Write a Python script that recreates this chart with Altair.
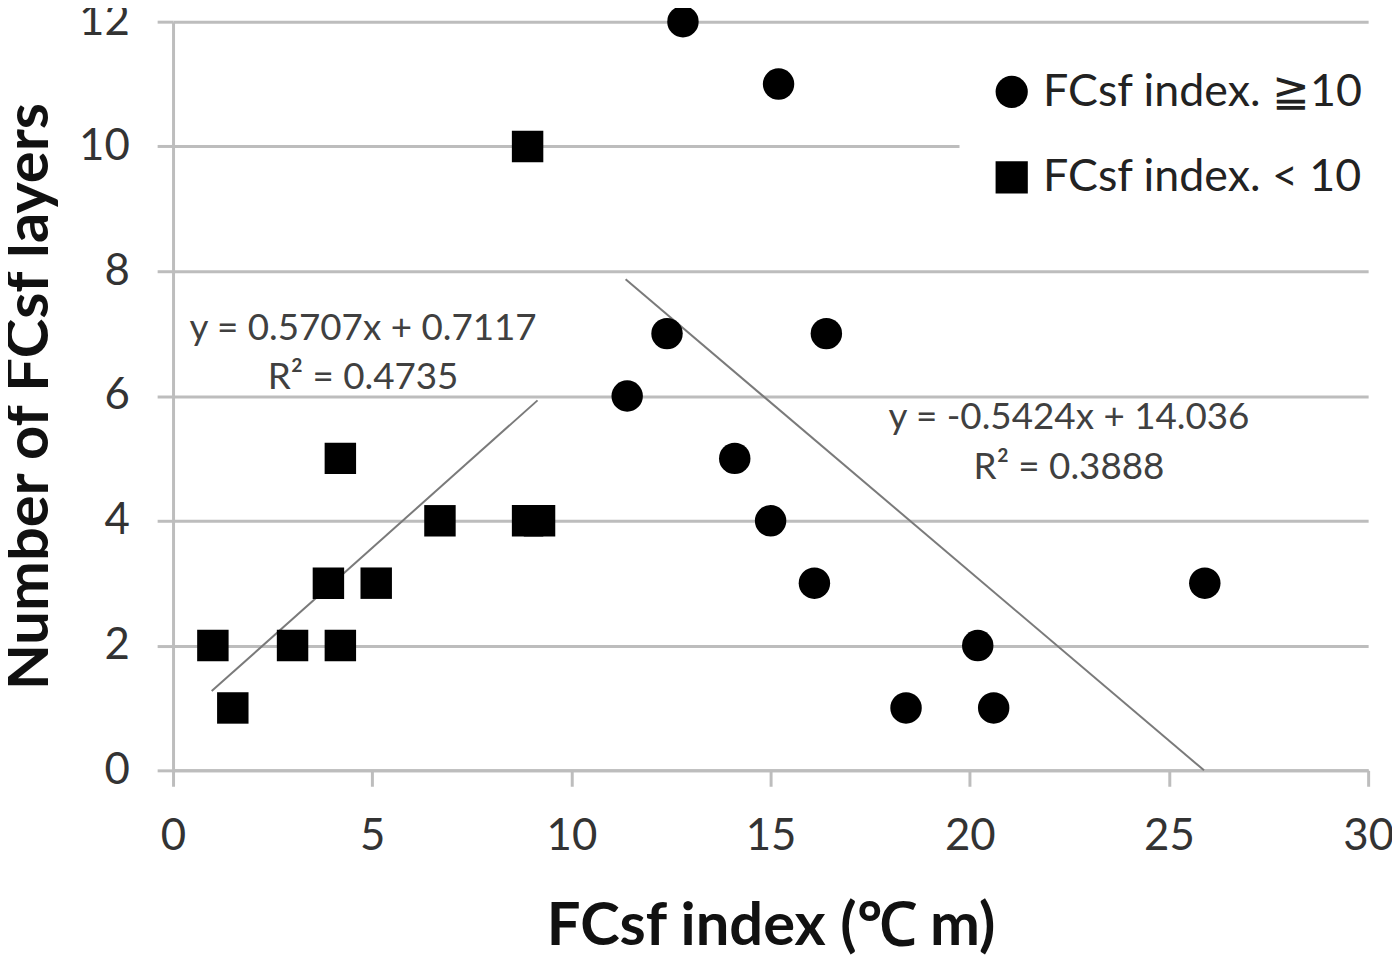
import altair as alt
import pandas as pd

# ---- data ----
series = ["FCsf index. ≧10", "FCsf index. < 10"]

hi_x = [12.8, 15.2, 12.4, 16.4, 11.4, 14.1, 15.0, 16.1, 20.2, 18.4, 20.6, 25.9]
hi_y = [12, 11, 7, 7, 6, 5, 4, 3, 2, 1, 1, 3]

lo_x = [1.0, 1.5, 3.0, 3.9, 4.2, 4.2, 5.1, 6.7, 8.9, 9.2, 8.9]
lo_y = [2, 1, 2, 3, 2, 5, 3, 4, 4, 4, 10]

trend1_x = [0.97, 9.15]
trend1_y = [1.27, 5.93]
trend2_x = [11.36, 25.88]
trend2_y = [7.87, 0.0]

eq_text = ["y = 0.5707x + 0.7117", "R² = 0.4735", "y = -0.5424x + 14.036", "R² = 0.3888"]
eq_x = [4.77, 4.77, 22.49, 22.49]
eq_y = [7.08, 6.28, 5.64, 4.84]

x_ticks = [0, 5, 10, 15, 20, 25, 30]
y_ticks = [0, 2, 4, 6, 8, 10, 12]

# ---- tables ----
pts = pd.DataFrame({
    "x": hi_x + lo_x,
    "y": hi_y + lo_y,
    "series": [series[0]] * len(hi_x) + [series[1]] * len(lo_x),
})
trend = pd.DataFrame({
    "x": trend1_x + trend2_x,
    "y": trend1_y + trend2_y,
    "g": ["a", "a", "b", "b"],
})
eqs = pd.DataFrame({"x": eq_x, "y": eq_y, "t": eq_text})

X = alt.X("x:Q", scale=alt.Scale(domain=[0, 30], nice=False),
          axis=alt.Axis(values=x_ticks, title="FCsf index (℃ m)", grid=False,
                        labelPadding=29, titlePadding=39))
Y = alt.Y("y:Q", scale=alt.Scale(domain=[0, 12], nice=False),
          axis=alt.Axis(values=y_ticks, title="Number of FCsf layers", grid=True,
                        labelPadding=28, titlePadding=18))

points = alt.Chart(pts).mark_point(filled=True, opacity=1, color="black", size=1000).encode(
    x=X, y=Y,
    shape=alt.Shape("series:N", scale=alt.Scale(domain=series, range=["circle", "square"]),
                    legend=alt.Legend(title=None, orient="none", legendX=791, legendY=18)),
)

lines = alt.Chart(trend).mark_line(color="#7a7a7a", strokeWidth=2).encode(
    x=X, y=Y, detail="g:N"
)

texts = alt.Chart(eqs).mark_text(font="Lato", fontSize=37, color="#404040",
                                 align="center", baseline="middle").encode(
    x=X, y=Y, text="t:N"
)

chart = alt.layer(lines, points, texts).properties(
    width=1202, height=753,
    autosize=alt.AutoSizeParams(type="none"),
    padding={"left": 166, "top": 11, "right": 24, "bottom": 188},
).configure_view(stroke=None).configure_axis(
    domainColor="#bdbdbd", domainWidth=3,
    tickColor="#bdbdbd", tickWidth=3, tickSize=16,
    gridColor="#bdbdbd", gridWidth=3,
    labelFont="Lato", labelFontSize=44, labelColor="#333333",
    labelFlush=False, labelOverlap=False,
    titleFont="Lato", titleFontSize=60, titleFontWeight="bold", titleColor="#111111",
).configure_legend(
    fillColor="white", padding=30,
    symbolSize=1050, symbolFillColor="black", symbolStrokeWidth=0,
    labelFont="Lato", labelFontSize=45, labelColor="#222222", labelOffset=9,
    rowPadding=40, labelLimit=500,
)

chart.save("out.html", embed_options={"renderer": "svg", "actions": False})
